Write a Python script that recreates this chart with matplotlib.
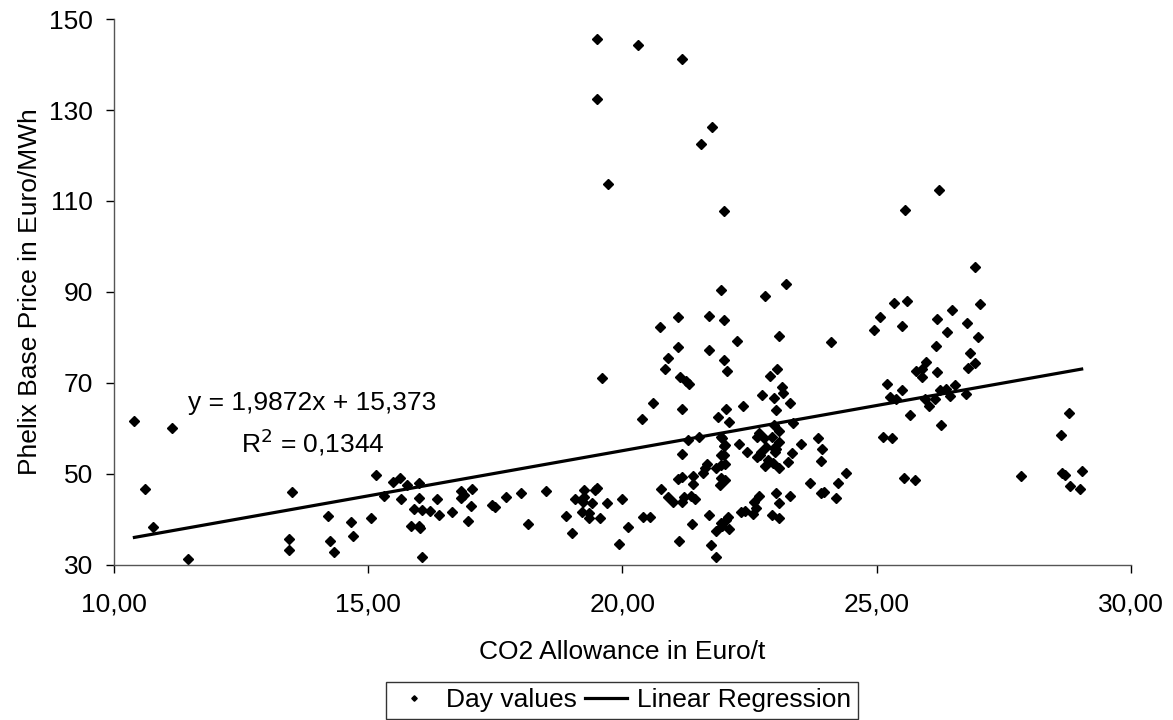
import matplotlib.pyplot as plt
from matplotlib.ticker import FuncFormatter

plt.rcParams['font.family'] = ['Liberation Sans', 'DejaVu Sans']

# CO2 allowance (Euro/t) and Phelix base price (Euro/MWh)
co2 = [10.41, 10.61, 10.78, 11.14, 11.46,
       13.45, 13.45, 13.51, 14.21, 14.26, 14.33, 14.66, 14.71,
       15.06, 15.16, 15.31, 15.50, 15.63, 15.65, 15.76, 15.90, 15.85,
       16.00, 16.01, 16.01, 16.02, 16.06, 16.07, 16.23, 16.36, 16.40, 16.66,
       16.83, 16.89, 16.82, 17.05, 17.02, 16.96,
       17.43, 17.50, 17.71, 18.01, 18.15, 18.50, 18.90, 19.02, 19.07, 19.25,
       19.25, 19.22, 19.41, 19.46, 19.51, 19.21, 19.34, 19.34, 19.56, 19.60,
       19.70, 20.00, 19.94, 20.12, 20.39, 20.40, 20.55, 20.60,
       19.50, 20.30, 21.17, 19.50, 21.76, 21.54, 19.71, 21.99, 21.95, 22.80, 23.21,
       20.74, 21.10, 21.70, 21.99, 21.10, 21.70, 22.26, 20.89, 20.84, 21.14,
       21.26, 21.31, 22.00, 22.05, 21.17, 21.88, 22.03, 22.09, 22.37, 23.09,
       23.04, 22.91, 23.14, 23.16, 22.75, 22.98, 23.03, 23.29, 23.36, 22.98,
       21.29, 21.50, 21.97, 21.99, 22.29, 22.45, 21.18, 21.99, 21.95, 21.67,
       21.62, 21.59, 21.85, 21.94, 22.01, 21.10, 21.17, 21.39, 21.40, 21.93,
       22.01, 21.95, 21.95, 22.01,
       20.76, 20.89, 21.00, 21.17, 21.21, 21.36, 21.43, 21.11, 21.37, 21.70,
       21.74, 21.84, 21.84, 21.97, 22.07, 22.10, 21.95, 22.03,
       22.34, 22.56, 22.62, 22.69, 22.58, 23.03, 23.08, 22.94, 23.09, 22.41,
       22.64, 22.69, 22.78, 22.94, 23.09, 23.09, 22.98, 22.83, 22.70, 22.65,
       22.86, 22.80, 22.96, 23.09, 23.00, 23.26, 22.73, 23.03,
       23.34, 23.51, 23.69, 23.29, 23.85, 23.93, 23.91, 24.40, 24.24, 24.21,
       23.96, 23.91, 24.10,
       26.22, 25.56, 25.35, 25.59, 25.07, 24.95, 25.50, 26.49, 26.19, 26.77,
       26.39, 26.16, 25.98, 25.78, 25.90, 25.90, 26.19, 26.84, 26.80, 26.94,
       26.93, 27.03, 27.00,
       25.20, 25.26, 25.39, 25.50, 25.65, 25.96, 26.02, 26.15, 26.24, 26.36,
       26.45, 26.55, 26.75, 26.26,
       25.12, 25.30, 25.54, 25.75,
       27.83, 28.79, 28.63, 28.65, 28.71, 29.03, 28.81, 28.99]

price = [61.7, 46.7, 38.4, 60.0, 31.4,
         35.7, 33.4, 46.0, 40.8, 35.3, 32.8, 39.5, 36.3,
         40.3, 49.7, 45.2, 48.3, 49.2, 44.6, 47.6, 42.4, 38.6,
         48.0, 44.8, 38.6, 38.1, 42.1, 31.7, 41.9, 44.6, 40.9, 41.6,
         46.3, 45.4, 44.7, 46.8, 43.0, 39.7,
         43.2, 42.7, 44.9, 45.8, 39.1, 46.3, 40.7, 37.1, 44.5, 46.4,
         45.0, 43.9, 43.6, 46.5, 47.0, 41.7, 41.4, 40.3, 40.4, 71.0,
         43.6, 44.6, 34.7, 38.3, 62.1, 40.6, 40.5, 65.7,
         145.5, 144.3, 141.2, 132.5, 126.3, 122.6, 113.7, 107.8, 90.5, 89.2, 91.8,
         82.3, 84.4, 84.7, 83.9, 77.9, 77.2, 79.3, 75.5, 73.1, 71.4,
         70.4, 69.8, 75.1, 72.6, 64.3, 62.5, 64.3, 61.5, 64.9, 80.3,
         73.1, 71.5, 69.2, 67.9, 67.3, 66.8, 64.1, 65.7, 61.3, 60.8,
         57.5, 58.1, 57.9, 56.2, 56.6, 54.8, 54.5, 54.2, 58.2, 52.2,
         51.3, 50.2, 51.3, 51.9, 52.2, 49.0, 49.4, 49.6, 47.7, 47.6,
         48.7, 49.2, 54.2, 56.4,
         46.8, 45.0, 43.8, 43.8, 45.0, 45.2, 44.6, 35.3, 38.9, 41.0,
         34.5, 31.8, 37.5, 38.6, 40.5, 38.0, 39.2, 39.8,
         41.7, 41.3, 42.5, 45.2, 43.9, 45.9, 43.6, 41.0, 40.3, 41.9,
         58.2, 58.9, 58.0, 58.2, 59.5, 57.1, 55.8, 56.0, 54.1, 53.7,
         53.1, 51.8, 52.4, 51.3, 54.9, 52.6, 54.9, 55.6,
         54.7, 56.6, 48.0, 45.2, 58.0, 55.6, 52.9, 50.3, 48.1, 44.7,
         46.0, 45.9, 79.1,
         112.4, 108.0, 87.5, 88.0, 84.4, 81.7, 82.6, 86.0, 84.1, 83.1,
         81.1, 78.1, 74.7, 72.7, 73.0, 71.4, 72.4, 76.5, 73.4, 74.4,
         95.6, 87.3, 80.0,
         69.8, 66.9, 66.4, 68.5, 62.9, 66.5, 64.9, 66.4, 68.5, 68.6,
         67.1, 69.5, 67.5, 60.8,
         58.1, 58.0, 49.1, 48.6,
         49.6, 63.4, 58.6, 50.2, 49.8, 50.6, 47.4, 46.8]

# regression from the chart's trendline label
slope = 1.9872
intercept = 15.373

x_ticks = [10, 15, 20, 25, 30]
y_ticks = [30, 50, 70, 90, 110, 130, 150]

fs = 19

fig = plt.figure(figsize=(11.73, 7.2), dpi=100)
ax = fig.add_axes([0.0968, 0.2153, 0.8674, 0.7583])

ax.plot(co2, price, linestyle='none', marker='D', markersize=4.6,
        color='black', label='Day values')
xl = [min(co2), max(co2)]
ax.plot(xl, [slope * v + intercept for v in xl], color='black', lw=2.3,
        label='Linear Regression')

ax.set_xlim(10, 30)
ax.set_ylim(30, 150)
ax.set_xticks(x_ticks)
ax.set_yticks(y_ticks)
ax.xaxis.set_major_formatter(FuncFormatter(lambda v, p: f'{v:.2f}'.replace('.', ',')))
ax.tick_params(direction='out', length=5.8, width=1, labelsize=fs, colors='black')
ax.tick_params(axis='x', pad=14)
ax.tick_params(axis='y', pad=9)
for s in ['top', 'right']:
    ax.spines[s].set_visible(False)
for s in ['left', 'bottom']:
    ax.spines[s].set_color('#555555')
    ax.spines[s].set_linewidth(1)

ax.set_xlabel('CO2 Allowance in Euro/t', fontsize=fs, labelpad=17)
ax.set_ylabel('Phelix Base Price in Euro/MWh', fontsize=fs, labelpad=5)

ax.text(0.1955, 0.297, 'y = 1,9872x + 15,373', transform=ax.transAxes,
        fontsize=fs, ha='center', va='center')
ax.text(0.1955, 0.225, 'R$^2$ = 0,1344', transform=ax.transAxes,
        fontsize=fs, ha='center', va='center')

leg = fig.legend(loc='upper center', bbox_to_anchor=(0.5305, 0.053), ncol=2,
                 fontsize=fs, frameon=True, fancybox=False, markerscale=0.6,
                 handlelength=1.6, handletextpad=0.4, columnspacing=0.3,
                 borderpad=0.25, borderaxespad=0)
leg.get_frame().set_edgecolor('black')
leg.get_frame().set_linewidth(1)

fig.savefig('out.png', dpi=100)
